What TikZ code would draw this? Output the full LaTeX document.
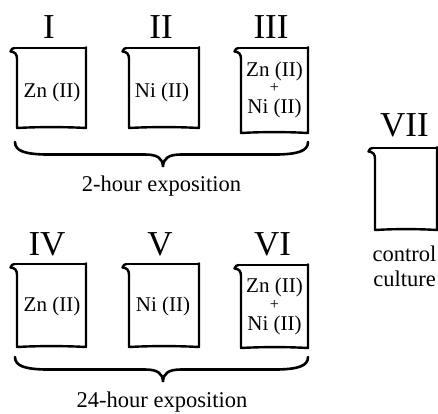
\documentclass[tikz,border=0pt]{standalone}
\usepackage{fontspec}
\setmainfont{Liberation Serif}
\newcommand\beakershape[4]{%
  \draw[topedge] (#3,#2) -- (#1-2.5,#2);
  \draw[walledge] (#1-2.5,#2) .. controls (#1-5,#2+0.5) .. (#1-6.5,#2+3.5)
    .. controls (#1-2,#2+4) and (#1,#2+6) .. (#1,#2+11) -- (#1,#4)
    .. controls (#1+20,#4-1.2) and (#3-20,#4-1.2) .. (#3,#4) -- (#3,#2-0.8);
}
\newcommand\bracepath[4]{%
  \draw[bracestroke] (#1,#3) .. controls (#1,#3+9) and (#1+10,#3+12) .. (#1+30,#3+12.5)
    -- (#4-18,#3+12.5) .. controls (#4-6,#3+12.5) and (#4,#3+16) .. (#4,#3+25)
    .. controls (#4,#3+16) and (#4+6,#3+12.5) .. (#4+18,#3+12.5)
    -- (#2-30,#3+12.5) .. controls (#2-10,#3+12) and (#2,#3+9) .. (#2,#3);
}
\begin{document}
\begin{tikzpicture}[x=1pt,y=-1pt,
  topedge/.style={line width=1.3pt},
  walledge/.style={line width=2.4pt,line join=round,line cap=round},
  bracestroke/.style={line width=2.6pt,line cap=round},
  numeral/.style={font=\fontsize{35}{35}\selectfont,anchor=base,inner sep=0pt},
  content/.style={font=\fontsize{21}{21}\selectfont,anchor=base,inner sep=0pt},
  plussign/.style={font=\fontsize{16}{16}\selectfont,anchor=center,inner sep=0pt},
  caption/.style={font=\fontsize{22.5}{25}\selectfont,anchor=base,inner sep=0pt}]
\useasboundingbox (0,0) rectangle (438,413);
% top row
\beakershape{17}{48}{86}{128}
\beakershape{129}{48}{199}{128}
\beakershape{241}{48}{308}{133}
\node[numeral] (n1) at (49,38) {I};
\node[numeral] (n2) at (161,38) {II};
\node[numeral] (n3) at (271,38) {III};
\node[content] (c1) at (52,97) {Zn (II)};
\node[content] (c2) at (162,97) {Ni (II)};
\node[content] (c3a) at (274.5,76) {Zn (II)};
\node[plussign] (c3b) at (274.5,88) {+};
\node[content] (c3c) at (274.5,113.5) {Ni (II)};
\bracepath{15}{308}{142}{163}
\node[caption] (t1) at (161.5,191) {2-hour exposition};
% bottom row
\beakershape{17}{264}{86}{347}
\beakershape{129}{264}{199}{347}
\beakershape{241}{265}{308}{348}
\node[numeral] (n4) at (47,255) {IV};
\node[numeral] (n5) at (160,255) {V};
\node[numeral] (n6) at (272.5,255) {VI};
\node[content] (c4) at (52,311) {Zn (II)};
\node[content] (c5) at (163,311) {Ni (II)};
\node[content] (c6a) at (274.5,292.5) {Zn (II)};
\node[plussign] (c6b) at (274.5,304.5) {+};
\node[content] (c6c) at (274.5,330) {Ni (II)};
\bracepath{15}{308}{357}{163}
\node[caption] (t2) at (162,407.5) {24-hour exposition};
% control
\beakershape{375}{148}{437}{230}
\node[numeral] (n7) at (404.5,136) {VII};
\node[caption] (c7a) at (404.5,261) {control};
\node[caption] (c7b) at (404.5,286) {culture};
\end{tikzpicture}
\end{document}
